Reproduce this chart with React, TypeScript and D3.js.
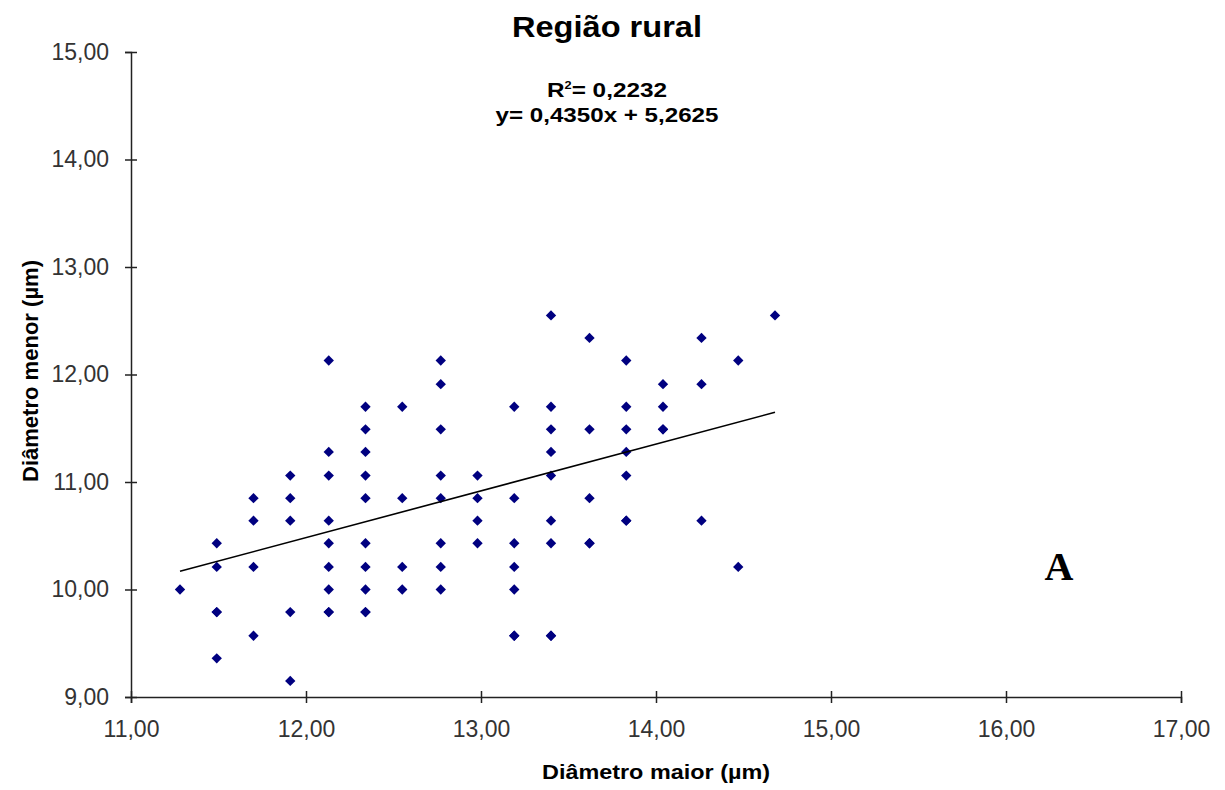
import React, { useEffect, useRef } from 'react';
import * as d3 from 'd3';

// Diâmetro maior (µm) per point
const diametroMaior = [
  11.28,
  11.49, 11.49, 11.49, 11.49, 11.49,
  11.70, 11.70, 11.70, 11.70,
  11.91, 11.91, 11.91, 11.91, 11.91,
  12.13, 12.13, 12.13, 12.13, 12.13, 12.13, 12.13, 12.13, 12.13,
  12.34, 12.34, 12.34, 12.34, 12.34, 12.34, 12.34, 12.34, 12.34, 12.34,
  12.55, 12.55, 12.55, 12.55,
  12.77, 12.77, 12.77, 12.77, 12.77, 12.77, 12.77, 12.77,
  12.98, 12.98, 12.98, 12.98,
  13.19, 13.19, 13.19, 13.19, 13.19, 13.19, 13.19,
  13.40, 13.40, 13.40, 13.40, 13.40, 13.40, 13.40, 13.40, 13.40,
  13.62, 13.62, 13.62, 13.62, 13.62,
  13.83, 13.83, 13.83, 13.83, 13.83, 13.83, 13.83,
  14.04, 14.04, 14.04, 14.04,
  14.26, 14.26, 14.26,
  14.47, 14.47,
  14.68,
];

// Diâmetro menor (µm) per point
const diametroMenor = [
  10.00,
  10.43, 10.21, 9.79, 9.36, 9.79,
  10.85, 10.64, 10.21, 9.57,
  11.06, 10.85, 10.64, 9.79, 9.15,
  12.13, 11.28, 11.06, 10.64, 10.43, 10.21, 10.00, 9.79, 9.79,
  11.70, 11.49, 11.28, 11.06, 10.85, 10.43, 10.21, 10.00, 9.79, 9.79,
  11.70, 10.85, 10.21, 10.00,
  12.13, 11.91, 11.49, 11.06, 10.85, 10.43, 10.21, 10.00,
  11.06, 10.85, 10.64, 10.43,
  11.70, 10.85, 10.43, 10.21, 10.00, 9.57, 9.57,
  12.55, 11.70, 11.49, 11.28, 11.06, 10.64, 10.43, 9.57, 9.57,
  12.34, 11.49, 10.85, 10.43, 10.43,
  12.13, 11.70, 11.49, 11.28, 11.06, 10.64, 10.64,
  11.91, 11.70, 11.49, 11.49,
  12.34, 11.91, 10.64,
  12.13, 10.21,
  12.55,
];

const xTicks = [11, 12, 13, 14, 15, 16, 17];
const yTicks = [9, 10, 11, 12, 13, 14, 15];

// regression from the chart
const slope = 0.435;
const intercept = 5.2625;
const rSquared = '0,2232';

const App = () => {
  const chartRef = useRef<SVGSVGElement>(null);

  useEffect(() => {
    const svg = d3.select(chartRef.current);
    svg.selectAll('*').remove();

    const width = 1225;
    const height = 790;
    const margin = { top: 52, right: 44, bottom: 93, left: 131 };

    const x = d3.scaleLinear().domain([11, 17]).range([margin.left, width - margin.right]);
    const y = d3.scaleLinear().domain([9, 15]).range([height - margin.bottom, margin.top]);

    const fmt = (v: number) => v.toFixed(2).replace('.', ',');
    const font = '"Liberation Sans", Arial, sans-serif';

    svg.append('rect').attr('width', width).attr('height', height).attr('fill', '#fff');

    // x axis
    const xAxis = svg
      .append('g')
      .attr('transform', `translate(0, ${y(9)})`)
      .call(d3.axisBottom(x).tickValues(xTicks).tickSize(6).tickPadding(18).tickFormat((d) => fmt(+d)));
    xAxis.select('.domain').attr('stroke', '#222').attr('stroke-width', 1.5);
    xAxis.selectAll('.tick line').attr('y1', -6).attr('stroke', '#222').attr('stroke-width', 1.5);
    xAxis.selectAll('.tick text').attr('font-family', font).attr('font-size', 23).attr('fill', '#333');

    // y axis
    const yAxis = svg
      .append('g')
      .attr('transform', `translate(${x(11)}, 0)`)
      .call(d3.axisLeft(y).tickValues(yTicks).tickSize(6).tickPadding(16).tickFormat((d) => fmt(+d)));
    yAxis.select('.domain').attr('stroke', '#222').attr('stroke-width', 1.5);
    yAxis.selectAll('.tick line').attr('x1', 6).attr('stroke', '#222').attr('stroke-width', 1.5);
    yAxis.selectAll('.tick text').attr('font-family', font).attr('font-size', 23).attr('fill', '#333');

    // points
    const points = diametroMaior.map((d, i) => ({ x: d, y: diametroMenor[i] }));
    const diamond = d3.symbol().type(d3.symbolDiamond2).size(68);
    svg
      .append('g')
      .selectAll('path')
      .data(points)
      .enter()
      .append('path')
      .attr('d', diamond)
      .attr('transform', (d) => `translate(${x(d.x)}, ${y(d.y)})`)
      .attr('fill', '#000080');

    // trend line
    const xMin = d3.min(diametroMaior) as number;
    const xMax = d3.max(diametroMaior) as number;
    svg
      .append('line')
      .attr('x1', x(xMin))
      .attr('y1', y(slope * xMin + intercept))
      .attr('x2', x(xMax))
      .attr('y2', y(slope * xMax + intercept))
      .attr('stroke', '#000')
      .attr('stroke-width', 1.6);

    const boldText = (tx: number, ty: number, size: number, len: number) =>
      svg
        .append('text')
        .attr('x', tx)
        .attr('y', ty)
        .attr('text-anchor', 'middle')
        .attr('font-family', font)
        .attr('font-weight', 'bold')
        .attr('font-size', size)
        .attr('textLength', len)
        .attr('lengthAdjust', 'spacingAndGlyphs');

    // title and equation
    boldText(607, 37, 30, 190).text('Região rural');

    const r2 = boldText(607, 97, 21, 120);
    r2.append('tspan').text('R');
    r2.append('tspan').attr('font-size', 11).attr('dy', -8).text('2');
    r2.append('tspan').attr('dy', 8).text(`= ${rSquared}`);

    boldText(607, 122, 21, 223).text(`y= ${fmt4(slope)}x + ${fmt4(intercept)}`);

    // axis titles
    boldText(656, 779, 21, 228).text('Diâmetro maior (µm)');

    boldText(0, 0, 22, 222)
      .attr('transform', 'translate(38, 371) rotate(-90)')
      .text('Diâmetro menor (µm)');

    // panel letter
    svg
      .append('text')
      .attr('x', 1059)
      .attr('y', 580)
      .attr('text-anchor', 'middle')
      .attr('font-family', '"Liberation Serif", "Times New Roman", serif')
      .attr('font-weight', 'bold')
      .attr('font-size', 40)
      .text('A');
  }, []);

  return (
    <svg
      ref={chartRef}
      width={1225}
      height={790}
      style={{ position: 'absolute', left: 0, top: 0 }}
    />
  );
};

function fmt4(v: number) {
  return v.toFixed(4).replace('.', ',');
}

export default App;
